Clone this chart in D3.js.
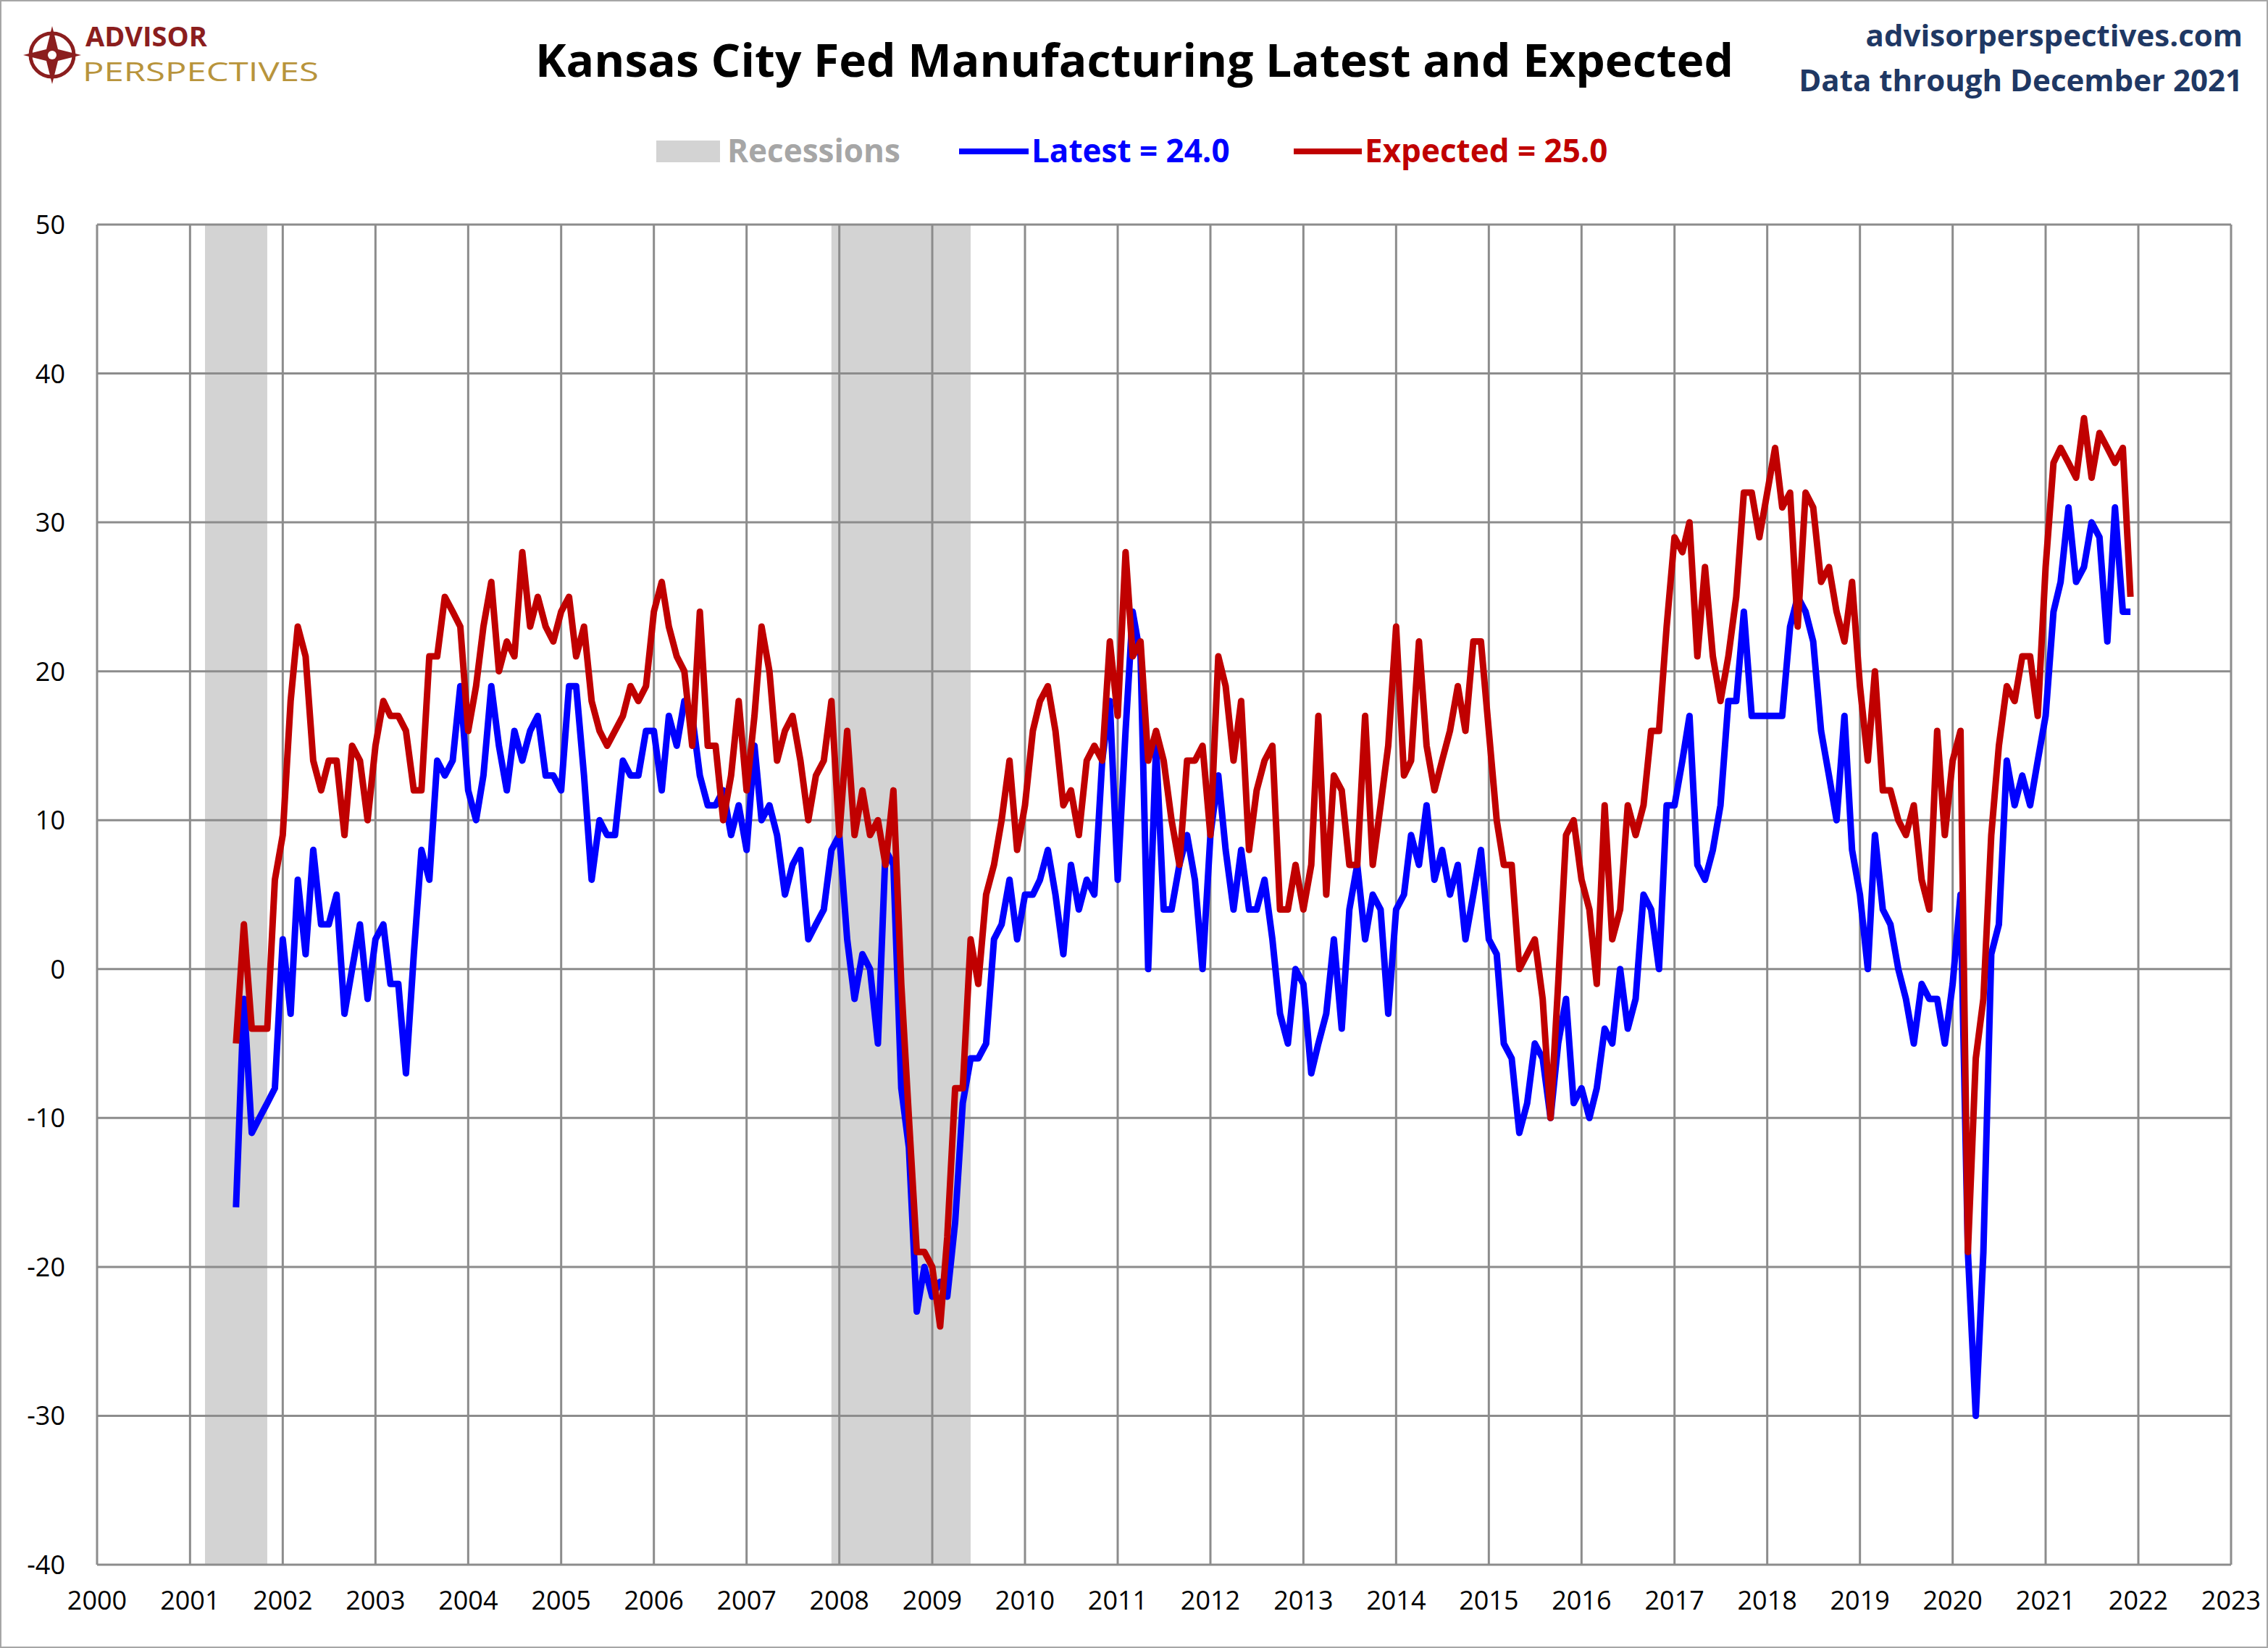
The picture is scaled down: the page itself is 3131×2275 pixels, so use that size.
<!DOCTYPE html>
<html>
<head>
<meta charset="utf-8">
<script src="https://cdn.jsdelivr.net/npm/d3@7"></script>
<style>
  body { margin: 0; background: #fff; }
  svg { display: block; font-family: "Open Sans", "Noto Sans", sans-serif; }
</style>
</head>
<body>
<svg id="chart" width="3131" height="2275"></svg>
<script>
// monthly readings, Jul 2001 .. Dec 2021
var startMonth = new Date(2001, 6, 1);
var latest = [
  -16, -2, -11, -10, -9, -8,
  2, -3, 6, 1, 8, 3, 3, 5, -3, 0, 3, -2,
  2, 3, -1, -1, -7, 1, 8, 6, 14, 13, 14, 19,
  12, 10, 13, 19, 15, 12, 16, 14, 16, 17, 13, 13,
  12, 19, 19, 13, 6, 10, 9, 9, 14, 13, 13, 16,
  16, 12, 17, 15, 18, 17, 13, 11, 11, 12, 9, 11,
  8, 15, 10, 11, 9, 5, 7, 8, 2, 3, 4, 8,
  9, 2, -2, 1, 0, -5, 8, 7, -8, -12, -23, -20,
  -22, -21, -22, -17, -9, -6, -6, -5, 2, 3, 6, 2,
  5, 5, 6, 8, 5, 1, 7, 4, 6, 5, 14, 18,
  6, 16, 24, 21, 0, 15, 4, 4, 7, 9, 6, 0,
  9, 13, 8, 4, 8, 4, 4, 6, 2, -3, -5, 0,
  -1, -7, -5, -3, 2, -4, 4, 7, 2, 5, 4, -3,
  4, 5, 9, 7, 11, 6, 8, 5, 7, 2, 5, 8,
  2, 1, -5, -6, -11, -9, -5, -6, -10, -5, -2, -9,
  -8, -10, -8, -4, -5, 0, -4, -2, 5, 4, 0, 11,
  11, 14, 17, 7, 6, 8, 11, 18, 18, 24, 17, 17,
  17, 17, 17, 23, 25, 24, 22, 16, 13, 10, 17, 8,
  5, 0, 9, 4, 3, 0, -2, -5, -1, -2, -2, -5,
  -1, 5, -19, -30, -19, 1, 3, 14, 11, 13, 11, 14,
  17, 24, 26, 31, 26, 27, 30, 29, 22, 31, 24, 24
];
var expected = [
  -5, 3, -4, -4, -4, 6,
  9, 18, 23, 21, 14, 12, 14, 14, 9, 15, 14, 10,
  15, 18, 17, 17, 16, 12, 12, 21, 21, 25, 24, 23,
  16, 19, 23, 26, 20, 22, 21, 28, 23, 25, 23, 22,
  24, 25, 21, 23, 18, 16, 15, 16, 17, 19, 18, 19,
  24, 26, 23, 21, 20, 15, 24, 15, 15, 10, 13, 18,
  12, 17, 23, 20, 14, 16, 17, 14, 10, 13, 14, 18,
  9, 16, 9, 12, 9, 10, 7, 12, -1, -10, -19, -19,
  -20, -24, -18, -8, -8, 2, -1, 5, 7, 10, 14, 8,
  11, 16, 18, 19, 16, 11, 12, 9, 14, 15, 14, 22,
  17, 28, 21, 22, 14, 16, 14, 10, 7, 14, 14, 15,
  9, 21, 19, 14, 18, 8, 12, 14, 15, 4, 4, 7,
  4, 7, 17, 5, 13, 12, 7, 7, 17, 7, 11, 15,
  23, 13, 14, 22, 15, 12, 14, 16, 19, 16, 22, 22,
  16, 10, 7, 7, 0, 1, 2, -2, -10, -1, 9, 10,
  6, 4, -1, 11, 2, 4, 11, 9, 11, 16, 16, 23,
  29, 28, 30, 21, 27, 21, 18, 21, 25, 32, 32, 29,
  32, 35, 31, 32, 23, 32, 31, 26, 27, 24, 22, 26,
  19, 14, 20, 12, 12, 10, 9, 11, 6, 4, 16, 9,
  14, 16, -19, -6, -2, 9, 15, 19, 18, 21, 21, 17,
  27, 34, 35, 34, 33, 37, 33, 36, 35, 34, 35, 25
];
var recessions = [
  [new Date(2001, 2, 1), new Date(2001, 10, 1)],
  [new Date(2007, 11, 1), new Date(2009, 5, 1)]
];
var yTicks = [50, 40, 30, 20, 10, 0, -10, -20, -30, -40];
var xYears = d3.range(2000, 2024);

var months = latest.map(function (d, i) { return d3.timeMonth.offset(startMonth, i); });

var svg = d3.select("#chart");
var W = 3131, H = 2275;
var m = { left: 134, right: 3080, top: 310, bottom: 2160 };

svg.append("rect").attr("x", 1).attr("y", 1).attr("width", W - 2).attr("height", H - 2)
  .attr("fill", "#fff").attr("stroke", "#a6a6a6").attr("stroke-width", 2);

var x = d3.scaleTime().domain([new Date(2000, 0, 1), new Date(2023, 0, 1)]).range([m.left, m.right]);
var y = d3.scaleLinear().domain([-40, 50]).range([m.bottom, m.top]);

// recession bands
svg.selectAll("rect.rec").data(recessions).enter().append("rect")
  .attr("class", "rec")
  .attr("x", function (d) { return x(d[0]); })
  .attr("y", m.top)
  .attr("width", function (d) { return x(d[1]) - x(d[0]); })
  .attr("height", m.bottom - m.top)
  .attr("fill", "#d3d3d3");

// grid
svg.append("g").selectAll("line").data(yTicks).enter().append("line")
  .attr("x1", m.left).attr("x2", m.right)
  .attr("y1", function (d) { return y(d); }).attr("y2", function (d) { return y(d); })
  .attr("stroke", "#8c8c8c").attr("stroke-width", 3);
svg.append("g").selectAll("line").data(xYears).enter().append("line")
  .attr("x1", function (d) { return x(new Date(d, 0, 1)); })
  .attr("x2", function (d) { return x(new Date(d, 0, 1)); })
  .attr("y1", m.top).attr("y2", m.bottom)
  .attr("stroke", "#8c8c8c").attr("stroke-width", 3);

// axes labels
svg.append("g").selectAll("text").data(yTicks).enter().append("text")
  .attr("x", m.left - 44).attr("y", function (d) { return y(d) + 13; })
  .attr("text-anchor", "end").attr("font-size", 36).attr("fill", "#000")
  .text(function (d) { return d; });
svg.append("g").selectAll("text").data(xYears).enter().append("text")
  .attr("x", function (d) { return x(new Date(d, 0, 1)); }).attr("y", m.bottom + 62)
  .attr("text-anchor", "middle").attr("font-size", 36).attr("fill", "#000")
  .text(function (d) { return d; });

// lines
var line = d3.line()
  .x(function (d, i) { return x(months[i]); })
  .y(function (d) { return y(d); });
svg.append("path").datum(latest).attr("d", line)
  .attr("fill", "none").attr("stroke", "#0000ff").attr("stroke-width", 9).attr("stroke-linejoin", "round");
svg.append("path").datum(expected).attr("d", line)
  .attr("fill", "none").attr("stroke", "#c00000").attr("stroke-width", 9).attr("stroke-linejoin", "round");

// title
svg.append("text").attr("x", 1566).attr("y", 106).attr("text-anchor", "middle")
  .attr("font-size", 62).attr("font-weight", "bold").attr("fill", "#000")
  .attr("textLength", 1654).attr("lengthAdjust", "spacingAndGlyphs")
  .text("Kansas City Fed Manufacturing Latest and Expected");

svg.append("text").attr("x", 3096).attr("y", 64).attr("text-anchor", "end")
  .attr("font-size", 42).attr("font-weight", "bold").attr("fill", "#1f3864")
  .text("advisorperspectives.com");
svg.append("text").attr("x", 3096).attr("y", 126).attr("text-anchor", "end")
  .attr("font-size", 42).attr("font-weight", "bold").attr("fill", "#1f3864")
  .text("Data through December 2021");

// logo
var logo = svg.append("g").attr("transform", "translate(72,76)");
logo.append("circle").attr("r", 30).attr("fill", "none").attr("stroke", "#8b1e1e").attr("stroke-width", 5);
logo.append("path").attr("d", "M0,-40 L8,-8 L40,0 L8,8 L0,40 L-8,8 L-40,0 L-8,-8 Z").attr("fill", "#8b1e1e");
logo.append("circle").attr("r", 6).attr("fill", "#fff");
svg.append("text").attr("x", 118).attr("y", 64).attr("font-size", 38).attr("font-weight", "bold")
  .attr("fill", "#8b1e1e").text("ADVISOR");
svg.append("text").attr("x", 114).attr("y", 112).attr("font-size", 36)
  .attr("fill", "#b8943c").attr("textLength", 326).attr("lengthAdjust", "spacingAndGlyphs").text("PERSPECTIVES");

// legend
var leg = svg.append("g").attr("font-size", 44).attr("font-weight", "bold");
leg.append("rect").attr("x", 906).attr("y", 194).attr("width", 88).attr("height", 30).attr("fill", "#d3d3d3");
leg.append("text").attr("x", 1004).attr("y", 224).attr("fill", "#a6a6a6").text("Recessions");
leg.append("line").attr("x1", 1324).attr("x2", 1420).attr("y1", 209).attr("y2", 209)
  .attr("stroke", "#0000ff").attr("stroke-width", 8);
leg.append("text").attr("x", 1424).attr("y", 224).attr("fill", "#0000ff").text("Latest = 24.0");
leg.append("line").attr("x1", 1786).attr("x2", 1880).attr("y1", 209).attr("y2", 209)
  .attr("stroke", "#c00000").attr("stroke-width", 8);
leg.append("text").attr("x", 1884).attr("y", 224).attr("fill", "#c00000").text("Expected = 25.0");
</script>
</body>
</html>
